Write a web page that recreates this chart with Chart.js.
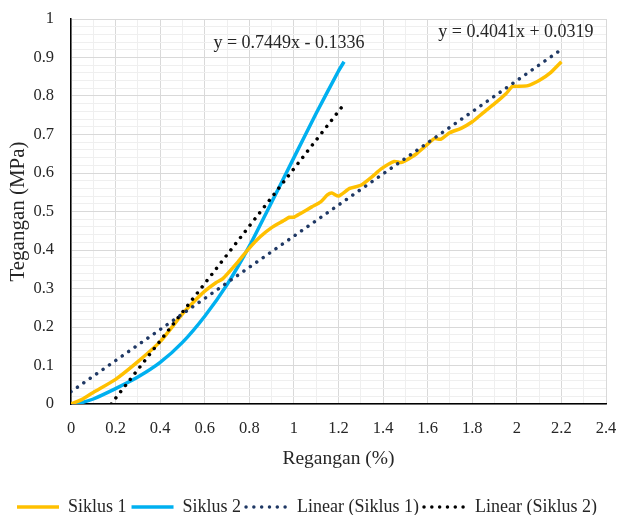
<!DOCTYPE html>
<html lang="id">
<head>
    <meta charset="UTF-8">
    <title>Tegangan - Regangan</title>
    <script src="https://cdn.jsdelivr.net/npm/chart.js"></script>
    <style>
        html, body { margin: 0; padding: 0; background: #fff; }
        .wrap { width: 619px; height: 515px; position: relative; }
    </style>
</head>
<body>
    <div class="wrap"><canvas id="chart"></canvas></div>

    <script>
        // values
        const siklus1X = [0, 0.05, 0.1, 0.2, 0.3, 0.4, 0.5, 0.55, 0.6, 0.65, 0.68, 0.75, 0.8, 0.85, 0.9, 0.95, 0.98, 1.0, 1.03, 1.08, 1.12, 1.15, 1.17, 1.2, 1.25, 1.3, 1.35, 1.39, 1.45, 1.48, 1.5, 1.55, 1.6, 1.63, 1.66, 1.7, 1.75, 1.8, 1.85, 1.9, 1.95, 1.98, 2.0, 2.05, 2.1, 2.15, 2.2];
        const siklus1Y = [0, 0.012, 0.03, 0.064, 0.11, 0.162, 0.234, 0.265, 0.293, 0.315, 0.325, 0.37, 0.405, 0.435, 0.458, 0.475, 0.485, 0.485, 0.495, 0.512, 0.525, 0.543, 0.548, 0.54, 0.56, 0.568, 0.59, 0.61, 0.63, 0.627, 0.632, 0.65, 0.675, 0.689, 0.688, 0.705, 0.716, 0.733, 0.757, 0.78, 0.805, 0.825, 0.825, 0.827, 0.84, 0.86, 0.889];

        const siklus2X = [0, 0.05, 0.1, 0.2, 0.3, 0.4, 0.5, 0.6, 0.7, 0.8, 0.9, 1.0, 1.1, 1.2, 1.225];
        const siklus2Y = [0, 0.004, 0.013, 0.04, 0.07, 0.108, 0.16, 0.228, 0.31, 0.41, 0.524, 0.64, 0.755, 0.865, 0.889];

        const linear1X = [0, 2.2];
        const linear1Y = [0.032, 0.921];
        const linear2X = [0.18, 1.22];
        const linear2Y = [0, 0.775];

        const seriesNames = ["Siklus 1", "Siklus 2", "Linear (Siklus 1)", "Linear (Siklus 2)"];
        const equationTexts = ["y = 0.7449x - 0.1336", "y = 0.4041x + 0.0319"];

        function toPoints(xs, ys) {
            return xs.map((x, i) => ({ x: x, y: ys[i] }));
        }

        const serif = "'Liberation Serif', 'Times New Roman', serif";

        // trendline equations, placed like Excel's labels
        const equationPlugin = {
            id: "equations",
            afterDatasetsDraw(chart) {
                const ctx = chart.ctx;
                const xs = chart.scales.x, ys = chart.scales.y;
                const spots = [[0.978, 0.9375], [1.996, 0.966]];
                ctx.save();
                ctx.font = "18px " + serif;
                ctx.fillStyle = "#262626";
                ctx.textAlign = "center";
                ctx.textBaseline = "middle";
                spots.forEach((s, i) => {
                    ctx.fillText(equationTexts[i], xs.getPixelForValue(s[0]), ys.getPixelForValue(s[1]));
                });
                ctx.restore();
            }
        };

        const dotted = [0.01, 7.8];

        new Chart(document.getElementById("chart"), {
            type: "scatter",
            data: {
                datasets: [
                    {
                        label: seriesNames[0],
                        data: toPoints(siklus1X, siklus1Y),
                        borderColor: "#FFC000",
                        backgroundColor: "#FFC000",
                        borderWidth: 3.5,
                        tension: 0.2,
                        order: 2
                    },
                    {
                        label: seriesNames[1],
                        data: toPoints(siklus2X, siklus2Y),
                        borderColor: "#00B0F0",
                        backgroundColor: "#00B0F0",
                        borderWidth: 3.5,
                        tension: 0.2,
                        order: 2
                    },
                    {
                        label: seriesNames[2],
                        data: toPoints(linear1X, linear1Y),
                        borderColor: "#1F3864",
                        backgroundColor: "#1F3864",
                        borderWidth: 3.5,
                        borderDash: dotted,
                        borderCapStyle: "round",
                        order: 1
                    },
                    {
                        label: seriesNames[3],
                        data: toPoints(linear2X, linear2Y),
                        borderColor: "#000000",
                        backgroundColor: "#000000",
                        borderWidth: 3.5,
                        borderDash: dotted,
                        borderCapStyle: "round",
                        order: 1
                    }
                ].map(d => Object.assign({ showLine: true, pointRadius: 0, pointHoverRadius: 0, fill: false }, d))
            },
            options: {
                responsive: true,
                maintainAspectRatio: false,
                animation: false,
                layout: { padding: { left: 8, right: 13, top: 19, bottom: -11 } },
                plugins: {
                    tooltip: { enabled: false },
                    legend: {
                        position: "bottom",
                        labels: {
                            usePointStyle: true,
                            pointStyle: "line",
                            pointStyleWidth: 42,
                            padding: 5,
                            color: "#262626",
                            font: { family: serif, size: 18 },
                            sort: (a, b) => a.datasetIndex - b.datasetIndex,
                            // take dash and width from the line, not from the (hidden) points
                            generateLabels(chart) {
                                const items = Chart.defaults.plugins.legend.labels.generateLabels(chart);
                                items.forEach(it => {
                                    const ds = chart.data.datasets[it.datasetIndex];
                                    it.lineDash = ds.borderDash || [];
                                    it.lineCap = ds.borderCapStyle || "butt";
                                    it.lineWidth = ds.borderWidth;
                                    it.strokeStyle = ds.borderColor;
                                });
                                return items;
                            }
                        }
                    }
                },
                scales: {
                    x: {
                        type: "linear",
                        min: 0,
                        max: 2.4,
                        afterFit: s => { s.height = 89; },
                        ticks: {
                            stepSize: 0.1,
                            autoSkip: false,
                            maxRotation: 0,
                            padding: 0,
                            color: "#262626",
                            font: { family: serif, size: 16.5 },
                            callback: v => Math.round(v * 10) % 2 === 0 ? String(Math.round(v * 10) / 10) : ""
                        },
                        grid: {
                            drawTicks: true,
                            tickLength: 15,
                            tickColor: "rgba(0,0,0,0)",
                            color: c => Math.round(c.tick.value * 10) % 2 === 0 ? "#d9d9d9" : "#efefef",
                            lineWidth: 1
                        },
                        border: { color: "#000", width: 1.5 },
                        title: {
                            display: true,
                            text: "Regangan (%)",
                            color: "#262626",
                            font: { family: serif, size: 19.5 },
                            padding: { top: 0, bottom: 22 }
                        }
                    },
                    y: {
                        type: "linear",
                        min: 0,
                        max: 1,
                        afterFit: s => { s.width = 63; },
                        ticks: {
                            stepSize: 0.02,
                            autoSkip: false,
                            padding: 0,
                            color: "#262626",
                            font: { family: serif, size: 16.5 },
                            callback: v => Math.round(v * 100) % 10 === 0 ? String(Math.round(v * 10) / 10) : ""
                        },
                        grid: {
                            drawTicks: true,
                            tickLength: 17,
                            tickColor: "rgba(0,0,0,0)",
                            color: c => Math.round(c.tick.value * 100) % 10 === 0 ? "#d9d9d9" : "#efefef",
                            lineWidth: 1
                        },
                        border: { color: "#000", width: 1.5 },
                        title: {
                            display: true,
                            text: "Tegangan (MPa)",
                            color: "#262626",
                            font: { family: serif, size: 21 },
                            padding: { top: -2, bottom: 0 }
                        }
                    }
                }
            },
            plugins: [equationPlugin]
        });
    </script>
</body>
</html>
